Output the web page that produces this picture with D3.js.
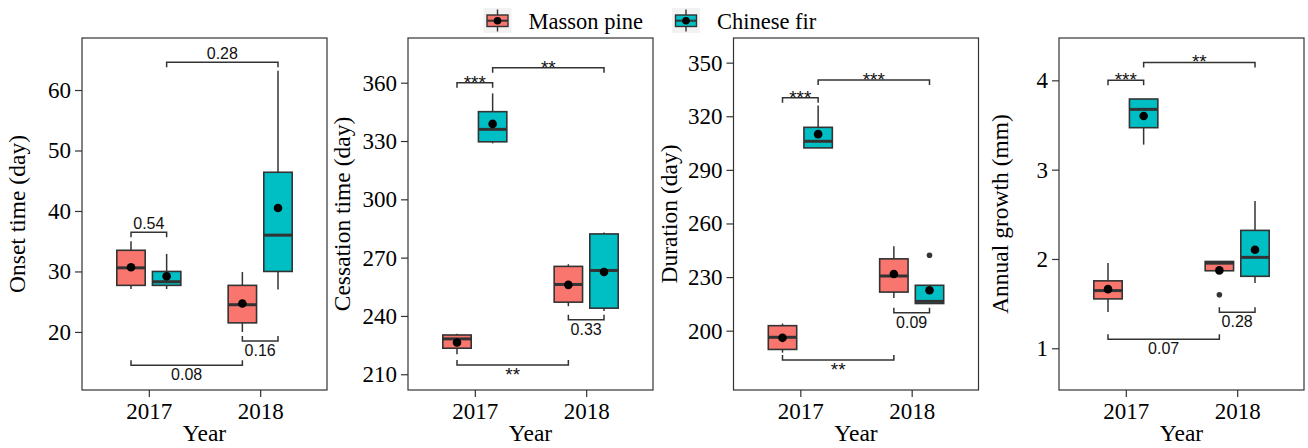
<!DOCTYPE html>
<html>
<head>
<meta charset="utf-8">
<script src="https://cdn.jsdelivr.net/npm/d3@7"></script>
<style>
  body { margin: 0; background: #fff; }
  svg { display: block; }
</style>
</head>
<body>
<div id="chart"></div>
<script>
// categories
const years = ["2017", "2018"];
const species = ["Masson pine", "Chinese fir"];
const speciesColors = ["#F8766D", "#00BFC4"];

// box stats per panel: species index, year, whisker low, q1, median, q3, whisker high, mean, outliers
const onsetStats = [
  [0, "2017", 27.1, 27.7, 30.6, 33.5, 35.0, 30.7, []],
  [1, "2017", 27.1, 27.7, 28.3, 30.0, 32.9, 29.2, []],
  [0, "2018", 20.0, 21.5, 24.5, 27.7, 29.9, 24.7, []],
  [1, "2018", 27.0, 30.0, 36.0, 46.4, 63.2, 40.5, []]
];
const cessationStats = [
  [0, "2017", 220.3, 223.4, 228.2, 230.2, 230.8, 226.3, []],
  [1, "2017", 328.8, 329.6, 336.0, 345.1, 354.5, 338.8, []],
  [0, "2018", 245.0, 247.1, 256.2, 265.5, 266.6, 256.0, []],
  [1, "2018", 242.6, 244.0, 263.4, 282.2, 282.9, 262.6, []]
];
const durationStats = [
  [0, "2017", 187.7, 189.5, 196.3, 202.8, 204.0, 196.0, []],
  [1, "2017", 302.3, 302.3, 306.0, 313.8, 326.0, 310.0, []],
  [0, "2018", 218.3, 221.6, 230.6, 240.2, 247.3, 231.7, []],
  [1, "2018", 215.2, 215.2, 216.4, 225.4, 225.4, 222.6, [242.2]]
];
const growthStats = [
  [0, "2017", 1.405, 1.553, 1.646, 1.755, 1.955, 1.662, []],
  [1, "2017", 3.28, 3.47, 3.675, 3.791, 3.791, 3.60, []],
  [0, "2018", 1.868, 1.868, 1.953, 1.972, 1.972, 1.872, [1.60]],
  [1, "2018", 1.73, 1.806, 2.018, 2.32, 2.65, 2.104, []]
];

// brackets: from year, from species, to year, to species, y value, label, side (1 above, -1 below)
const onsetBrackets = [
  ["2017", 0, "2017", 1, 36.5, "0.54", 1],
  ["2017", 1, "2018", 1, 64.6, "0.28", 1],
  ["2018", 0, "2018", 1, 18.5, "0.16", -1],
  ["2017", 0, "2018", 0, 14.5, "0.08", -1]
];
const cessationBrackets = [
  ["2017", 0, "2017", 1, 360.0, "***", 1],
  ["2017", 1, "2018", 1, 367.7, "**", 1],
  ["2018", 0, "2018", 1, 238.0, "0.33", -1],
  ["2017", 0, "2018", 0, 214.8, "**", -1]
];
const durationBrackets = [
  ["2017", 0, "2017", 1, 330.3, "***", 1],
  ["2017", 1, "2018", 1, 340.3, "***", 1],
  ["2018", 0, "2018", 1, 210.0, "0.09", -1],
  ["2017", 0, "2018", 0, 183.6, "**", -1]
];
const growthBrackets = [
  ["2017", 0, "2017", 1, 4.0, "***", 1],
  ["2017", 1, "2018", 1, 4.2, "**", 1],
  ["2018", 0, "2018", 1, 1.404, "0.28", -1],
  ["2017", 0, "2018", 0, 1.10, "0.07", -1]
];

// tick labels
const onsetTicks = [20, 30, 40, 50, 60];
const cessationTicks = [210, 240, 270, 300, 330, 360];
const durationTicks = [200, 230, 260, 290, 320, 350];
const growthTicks = [1, 2, 3, 4];

const panels = [
  { title: "Onset time (day)", stats: onsetStats, brackets: onsetBrackets, ticks: onsetTicks,
    domain: [10.4, 68.6], x0: 82, titleX: 20 },
  { title: "Cessation time (day)", stats: cessationStats, brackets: cessationBrackets, ticks: cessationTicks,
    domain: [201.9, 383], x0: 408, titleX: 345 },
  { title: "Duration (day)", stats: durationStats, brackets: durationBrackets, ticks: durationTicks,
    domain: [166.8, 363.8], x0: 733.5, titleX: 671.5 },
  { title: "Annual growth (mm)", stats: growthStats, brackets: growthBrackets, ticks: growthTicks,
    domain: [0.533, 4.474], x0: 1059, titleX: 1003 }
];

const W = 1308, H = 448;
const pw = 245, plotTop = 38, plotBottom = 390;
const ink = "#333333";
const serif = "'Liberation Serif', 'Times New Roman', serif";
const sans = "'Liberation Sans', Arial, sans-serif";

const svg = d3.select("#chart").append("svg")
  .attr("width", W).attr("height", H);

const x = d3.scalePoint().domain(years).range([0, pw]).padding(0.6);
const step = x.step();
const dodge = step * 0.16;
const boxW = step * 0.255;
const xPos = (yr, sp) => x(yr) + (sp === 0 ? -dodge : dodge);

panels.forEach(p => {
  const g = svg.append("g").attr("transform", "translate(" + p.x0 + ",0)");
  const y = d3.scaleLinear().domain(p.domain).range([plotBottom, plotTop]);

  // frame
  g.append("rect")
    .attr("x", 0).attr("y", plotTop).attr("width", pw).attr("height", plotBottom - plotTop)
    .attr("fill", "none").attr("stroke", ink).attr("stroke-width", 1.2);

  // axes
  const yAxis = g.append("g")
    .call(d3.axisLeft(y).tickValues(p.ticks).tickSize(7).tickPadding(4).tickFormat(d3.format("d")));
  yAxis.select(".domain").remove();
  yAxis.selectAll("line").attr("stroke", ink).attr("stroke-width", 1.2);
  yAxis.selectAll("text").attr("font-family", serif).attr("font-size", 23).attr("fill", "#000");

  const xAxis = g.append("g").attr("transform", "translate(0," + plotBottom + ")")
    .call(d3.axisBottom(x).tickSize(7).tickPadding(6));
  xAxis.select(".domain").remove();
  xAxis.selectAll("line").attr("stroke", ink).attr("stroke-width", 1.2);
  xAxis.selectAll("text").attr("font-family", serif).attr("font-size", 23).attr("fill", "#000");

  // titles
  g.append("text")
    .attr("transform", "translate(" + (p.titleX - p.x0) + "," + ((plotTop + plotBottom) / 2) + ") rotate(-90)")
    .attr("text-anchor", "middle").attr("dominant-baseline", "middle")
    .attr("font-family", serif).attr("font-size", 23.5).attr("fill", "#000")
    .text(p.title);
  g.append("text")
    .attr("x", pw / 2).attr("y", 441)
    .attr("text-anchor", "middle")
    .attr("font-family", serif).attr("font-size", 23.5).attr("fill", "#000")
    .text("Year");

  // boxes
  const boxes = g.selectAll(".box").data(p.stats).enter().append("g").attr("class", "box");
  boxes.append("line")
    .attr("x1", d => xPos(d[1], d[0])).attr("x2", d => xPos(d[1], d[0]))
    .attr("y1", d => y(d[2])).attr("y2", d => y(d[6]))
    .attr("stroke", ink).attr("stroke-width", 1.5);
  boxes.append("rect")
    .attr("x", d => xPos(d[1], d[0]) - boxW / 2)
    .attr("y", d => y(d[5]))
    .attr("width", boxW)
    .attr("height", d => y(d[3]) - y(d[5]))
    .attr("fill", d => speciesColors[d[0]])
    .attr("stroke", ink).attr("stroke-width", 1.6);
  boxes.append("line")
    .attr("x1", d => xPos(d[1], d[0]) - boxW / 2).attr("x2", d => xPos(d[1], d[0]) + boxW / 2)
    .attr("y1", d => y(d[4])).attr("y2", d => y(d[4]))
    .attr("stroke", ink).attr("stroke-width", 3);
  boxes.selectAll(".out").data(d => d[8].map(v => [d[0], d[1], v])).enter().append("circle")
    .attr("cx", d => xPos(d[1], d[0])).attr("cy", d => y(d[2])).attr("r", 2.8)
    .attr("fill", ink);
  boxes.append("circle")
    .attr("cx", d => xPos(d[1], d[0])).attr("cy", d => y(d[7])).attr("r", 4.3)
    .attr("fill", "#000");

  // significance brackets
  const br = g.selectAll(".br").data(p.brackets).enter().append("g").attr("class", "br");
  br.append("path")
    .attr("d", d => {
      const xa = xPos(d[0], d[1]), xb = xPos(d[2], d[3]), yy = y(d[4]);
      const t = 5 * d[6];
      return "M" + xa + "," + (yy + t) + "V" + yy + "H" + xb + "V" + (yy + t);
    })
    .attr("fill", "none").attr("stroke", ink).attr("stroke-width", 1.5);
  br.append("text")
    .attr("x", d => (xPos(d[0], d[1]) + xPos(d[2], d[3])) / 2)
    .attr("y", d => {
      const yy = y(d[4]);
      const stars = d[5].indexOf("*") >= 0;
      if (d[6] === 1) return stars ? yy + 6 : yy - 3;
      return stars ? yy + 16 : yy + 15;
    })
    .attr("text-anchor", "middle")
    .attr("font-family", sans)
    .attr("font-size", d => d[5].indexOf("*") >= 0 ? 19 : 16)
    .attr("fill", "#111")
    .text(d => d[5]);
});

// legend
const legendPos = [[483.5, 528.5], [672, 717]];
const lg = svg.selectAll(".lg").data(species).enter().append("g")
  .attr("class", "lg")
  .attr("transform", (d, i) => "translate(" + legendPos[i][0] + ",8)");
lg.append("rect").attr("width", 28).attr("height", 25).attr("fill", "#f2f2f2");
lg.append("line").attr("x1", 14).attr("x2", 14).attr("y1", 1.5).attr("y2", 23.5)
  .attr("stroke", ink).attr("stroke-width", 1.4);
lg.append("rect").attr("x", 3.5).attr("y", 7).attr("width", 21).attr("height", 11.5)
  .attr("fill", (d, i) => speciesColors[i]).attr("stroke", ink).attr("stroke-width", 1.4);
lg.append("line").attr("x1", 3.5).attr("x2", 24.5).attr("y1", 12.7).attr("y2", 12.7)
  .attr("stroke", ink).attr("stroke-width", 2);
lg.append("circle").attr("cx", 14).attr("cy", 12.7).attr("r", 3.8).attr("fill", "#000");
lg.append("text")
  .attr("x", (d, i) => legendPos[i][1] - legendPos[i][0]).attr("y", 20.5)
  .attr("font-family", serif).attr("font-size", 22.5).attr("fill", "#000")
  .text(d => d);
</script>
</body>
</html>
